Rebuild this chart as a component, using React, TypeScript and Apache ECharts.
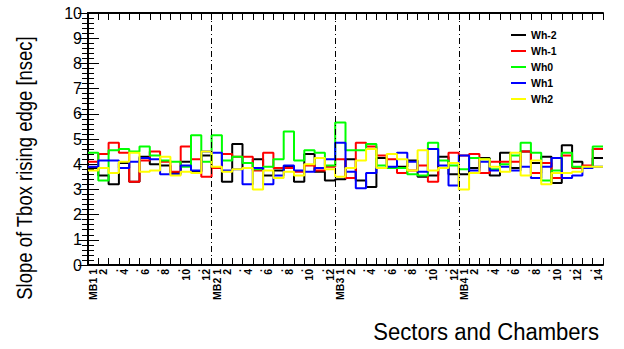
import React, { useEffect, useRef } from "react";
import * as echarts from "echarts";

// Chamber labels: MB1..MB3 have 12 sectors, MB4 has 14
const stations = ["MB1", "MB2", "MB3", "MB4"];
const sectorsPerStation = [12, 12, 12, 14];

// Slope of the Tbox rising edge [nsec] per chamber, one array per wheel
const whM2 = [
  3.85, 3.55, 3.2, 4.05, 3.3, 4.3, 4.0, 3.95, 3.65, 4.1, 3.7, 4.35,
  3.85, 3.3, 4.8, 3.85, 4.2, 3.55, 3.75, 3.9, 3.3, 4.4, 3.7, 3.35,
  3.4, 4.2, 3.35, 3.1, 4.25, 3.85, 3.9, 4.15, 3.5, 3.55, 4.3, 3.6,
  3.6, 3.85, 4.25, 3.55, 4.45, 3.85, 4.5, 4.05, 4.3, 3.25, 4.75, 4.1, 3.9, 4.25,
];
const whM1 = [
  4.1, 4.4, 4.85, 4.45, 3.3, 4.15, 4.5, 4.1, 3.7, 4.7, 4.2, 3.5,
  3.85, 4.4, 4.3, 4.3, 3.75, 4.45, 3.85, 3.85, 3.7, 3.95, 3.75, 3.9,
  4.2, 3.45, 4.85, 4.7, 4.35, 4.2, 3.65, 3.75, 3.95, 3.3, 3.85, 4.45,
  4.35, 4.4, 3.65, 4.1, 4.1, 4.1, 4.5, 3.65, 4.05, 3.45, 4.35, 3.85, 3.95, 4.6,
];
const wh0 = [
  4.45, 3.35, 4.55, 4.6, 4.5, 4.7, 4.35, 4.15, 4.1, 3.9, 5.15, 4.1,
  5.15, 4.15, 4.3, 4.05, 3.8, 3.9, 4.2, 5.3, 4.15, 4.55, 4.45, 3.95,
  5.65, 4.55, 4.55, 4.8, 3.95, 3.85, 3.85, 3.6, 3.55, 4.85, 4.15, 3.95,
  3.8, 4.25, 4.2, 3.8, 4.0, 4.35, 4.85, 4.45, 3.35, 3.75, 4.45, 3.9, 3.85, 4.7,
];
const whP1 = [
  3.9, 4.15, 4.15, 3.85, 4.1, 4.25, 4.2, 3.6, 3.6, 3.95, 3.75, 4.5,
  4.45, 3.75, 3.8, 3.2, 3.85, 3.2, 3.55, 3.95, 3.75, 3.7, 3.85, 4.2,
  4.85, 3.7, 3.05, 3.65, 3.85, 3.9, 4.45, 4.1, 3.7, 4.6, 3.95, 3.15,
  4.35, 3.75, 4.1, 3.75, 3.9, 3.75, 3.9, 3.45, 3.9, 4.25, 3.45, 3.55, 3.85, 3.9,
];
const whP2 = [
  3.75, 3.85, 3.65, 4.1, 4.45, 3.7, 3.75, 4.3, 3.55, 3.7, 3.65, 4.5,
  3.9, 3.7, 3.8, 3.85, 3.0, 3.75, 3.45, 3.7, 3.55, 4.0, 4.25, 3.8,
  3.5, 3.85, 4.15, 4.6, 3.85, 4.4, 4.2, 3.75, 4.55, 3.75, 3.85, 4.05,
  3.0, 3.65, 4.2, 3.9, 3.7, 4.45, 3.55, 4.15, 3.2, 3.65, 3.65, 3.7, 3.9, 3.9,
];

const wheels = [
  { name: "Wh-2", color: "#000000", values: whM2 },
  { name: "Wh-1", color: "#ff0000", values: whM1 },
  { name: "Wh0", color: "#00ff00", values: wh0 },
  { name: "Wh1", color: "#0000ff", values: whP1 },
  { name: "Wh2", color: "#ffff00", values: whP2 },
];

const FONT = "'Liberation Sans', Arial, Helvetica, sans-serif";

// Bin labels: first sector carries the station name, odd sectors shown as dots
const binLabels: string[] = [];
stations.forEach((st, s) => {
  for (let k = 1; k <= sectorsPerStation[s]; k++) {
    if (k === 1) binLabels.push(st + " 1");
    else if (k % 2 === 0) binLabels.push(String(k));
    else binLabels.push(".");
  }
});
const nBins = binLabels.length;

// Station boundaries (bin edges) for the dash-dotted separators
const boundaries: number[] = [];
{
  let acc = 0;
  for (let s = 0; s < sectorsPerStation.length - 1; s++) {
    acc += sectorsPerStation[s];
    boundaries.push(acc);
  }
}

function histPoints(values: number[]): number[][] {
  const pts = values.map((v, i) => [i, v]);
  pts.push([values.length, values[values.length - 1]]);
  return pts;
}

export default function App() {
  const ref = useRef<HTMLDivElement>(null);

  useEffect(() => {
    if (!ref.current) return;
    const chart = echarts.init(ref.current, null, { renderer: "svg" });

    const series: any[] = wheels.map((w, idx) => ({
      name: w.name,
      type: "line",
      step: "end",
      xAxisIndex: 0,
      yAxisIndex: 0,
      showSymbol: false,
      symbol: "none",
      data: histPoints(w.values),
      lineStyle: { color: w.color, width: 2 },
      itemStyle: { color: w.color },
      markLine:
        idx === 0
          ? {
              silent: true,
              symbol: "none",
              label: { show: false },
              lineStyle: { color: "#000", width: 1, type: [6, 3, 1, 3] },
              data: boundaries.map((b) => ({ xAxis: b })),
            }
          : undefined,
    }));

    chart.setOption({
      animation: false,
      backgroundColor: "#ffffff",
      grid: { left: 88, right: 21, top: 13, bottom: 84, containLabel: false },
      legend: {
        orient: "vertical",
        left: 511,
        top: 27,
        padding: 0,
        itemWidth: 15,
        itemHeight: 2,
        itemGap: 0,
        icon: "rect",
        data: wheels.map((w) => w.name),
        textStyle: {
          fontFamily: FONT,
          fontSize: 10.5,
          fontWeight: "bold",
          color: "#000",
          lineHeight: 16,
        },
      },
      xAxis: [
        {
          type: "value",
          min: 0,
          max: nBins,
          interval: 1,
          position: "bottom",
          axisLine: { show: true, lineStyle: { color: "#000", width: 2 } },
          axisTick: { show: true, inside: true, length: 7, lineStyle: { color: "#000" } },
          axisLabel: { show: false },
          splitLine: { show: false },
        },
        {
          type: "category",
          data: binLabels,
          position: "bottom",
          boundaryGap: true,
          axisLine: { show: false },
          axisTick: { show: false },
          splitLine: { show: false },
          axisLabel: {
            show: true,
            interval: 0,
            rotate: 90,
            margin: 4,
            fontFamily: FONT,
            fontSize: 10.5,
            fontWeight: "bold",
            color: "#000",
          },
        },
        {
          type: "value",
          min: 0,
          max: nBins,
          interval: 1,
          position: "top",
          axisLine: { show: true, lineStyle: { color: "#000", width: 2 } },
          axisTick: { show: true, inside: true, length: 7, lineStyle: { color: "#000" } },
          axisLabel: { show: false },
          splitLine: { show: false },
        },
      ],
      yAxis: [
        {
          type: "value",
          min: 0,
          max: 10,
          interval: 1,
          position: "left",
          axisLine: { show: true, lineStyle: { color: "#000", width: 2 } },
          axisTick: { show: true, inside: true, length: 11, lineStyle: { color: "#000" } },
          minorTick: { show: true, splitNumber: 5, length: 6, lineStyle: { color: "#000" } },
          axisLabel: {
            show: true,
            margin: 6,
            fontFamily: FONT,
            fontSize: 16,
            color: "#000",
          },
          splitLine: { show: false },
        },
        {
          type: "value",
          min: 0,
          max: 10,
          interval: 1,
          position: "right",
          axisLine: { show: true, lineStyle: { color: "#000", width: 2 } },
          axisTick: { show: true, inside: true, length: 10, lineStyle: { color: "#000" } },
          minorTick: { show: true, splitNumber: 5, length: 6, lineStyle: { color: "#000" } },
          axisLabel: { show: false },
          splitLine: { show: false },
        },
      ],
      graphic: [
        {
          type: "text",
          x: 24,
          y: 168,
          rotation: Math.PI / 2,
          scaleX: 0.84,
          style: {
            text: "Slope of Tbox rising edge [nsec]",
            fontFamily: FONT,
            fontSize: 22,
            fill: "#000",
            align: "center",
            verticalAlign: "middle",
          },
        },
        {
          type: "text",
          x: 599,
          y: 332,
          scaleX: 0.96,
          style: {
            text: "Sectors and Chambers",
            fontFamily: FONT,
            fontSize: 23,
            fill: "#000",
            align: "right",
            verticalAlign: "middle",
          },
        },
      ],
      series,
    });

    return () => chart.dispose();
  }, []);

  return (
    <div
      ref={ref}
      style={{ position: "fixed", left: 0, top: 0, width: 624, height: 349 }}
    />
  );
}
